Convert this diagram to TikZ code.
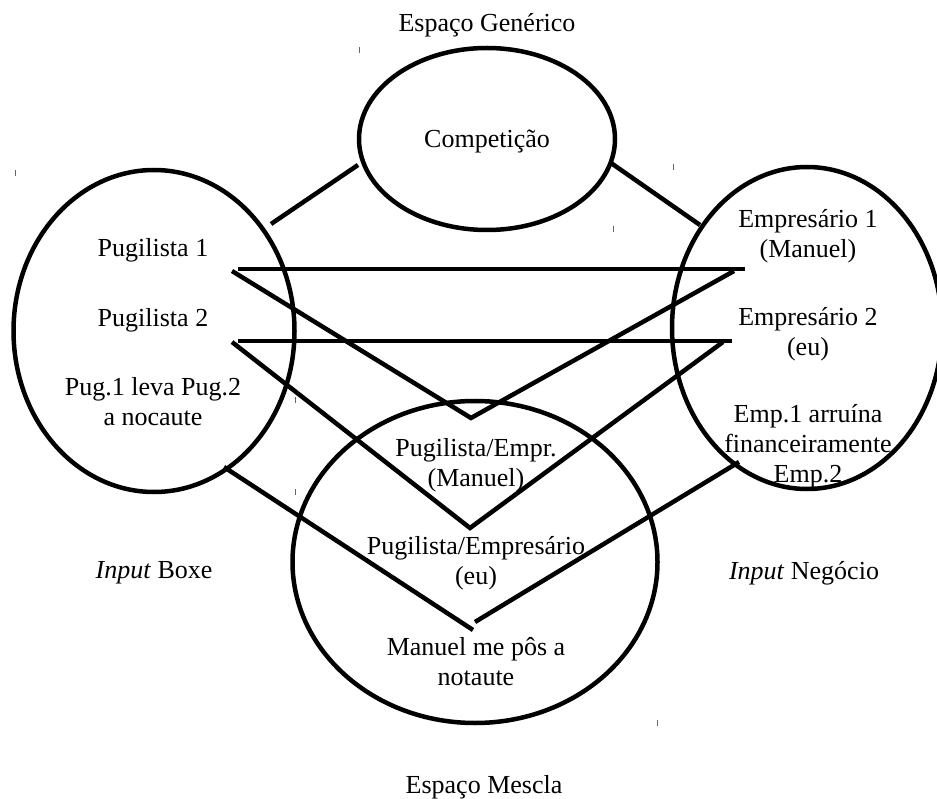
\documentclass[tikz,border=0pt]{standalone}
\usepackage{fontspec}
\setmainfont{Liberation Serif}
\usetikzlibrary{shapes.geometric}
\begin{document}
\begin{tikzpicture}[x=1pt,y=-1pt,
  lbl/.style={font=\fontsize{26}{30}\selectfont, align=center, inner sep=0pt},
  ell/.style={ellipse, draw, line width=4.5pt, inner sep=0pt},
  conn/.style={line width=4.5pt},
  tick/.style={line width=0.8pt, draw=black!60}]
\useasboundingbox (0,0) rectangle (937,799);
\begin{scope}
\clip (0,0) rectangle (937,799);
% ellipses
\node[ell, minimum width=256, minimum height=182] (gen) at (487,139) {};
\node[ell, minimum width=281, minimum height=322] (box) at (154,331) {};
\node[ell, minimum width=270, minimum height=322] (neg) at (807,328) {};
\node[ell, minimum width=365, minimum height=322] (mes) at (475,562) {};
\end{scope}
% labels
\node[lbl] (tgen) at (487,25) {Espaço Genérico};
\node[lbl] (tmes) at (484,787) {Espaço Mescla};
\node[lbl] (tib) at (154,573) {\textit{Input} Boxe};
\node[lbl] (tin) at (804,573) {\textit{Input} Negócio};
\node[lbl] (comp) at (487,142) {Competição};
\node[lbl] (p1) at (153,250) {Pugilista 1};
\node[lbl] (p2) at (153,320) {Pugilista 2};
\node[lbl] (p3) at (153,402) {Pug.1 leva Pug.2\\a nocaute};
\node[lbl] (e1) at (808,236) {Empresário 1\\(Manuel)};
\node[lbl] (e2) at (808,334) {Empresário 2\\(eu)};
\node[lbl] (e3) at (808,446) {Emp.1 arruína\\financeiramente\\Emp.2};
\node[lbl] (m1) at (476,465) {Pugilista/Empr.\\(Manuel)};
\node[lbl] (m2) at (476,563) {Pugilista/Empresário\\(eu)};
\node[lbl] (m3) at (476,662) {Manuel me pôs a\\notaute};
% connector end points
\coordinate (gl1) at (358,165);
\coordinate (gl2) at (271,224);
\coordinate (gr1) at (611,163);
\coordinate (gr2) at (700,225);
\coordinate (a1) at (238,269);
\coordinate (a2) at (745,269);
\coordinate (a3) at (232,271);
\coordinate (a4) at (734,271);
\coordinate (va) at (471,418);
\coordinate (b1) at (238,341);
\coordinate (b2) at (732,341);
\coordinate (b3) at (232,342);
\coordinate (b4) at (723,342);
\coordinate (vb) at (470,528);
\coordinate (c1) at (224,467);
\coordinate (c2) at (739,462);
\coordinate (vc) at (473,630);
\coordinate (vc2) at (475,622);
% connectors
\draw[conn] (gl1) -- (gl2);
\draw[conn] (gr1) -- (gr2);
\draw[conn] (a1) -- (a2);
\draw[conn] (a3) -- (va) -- (a4);
\draw[conn] (b1) -- (b2);
\draw[conn] (b3) -- (vb) -- (b4);
\draw[conn] (c1) -- (vc);
\draw[conn] (c2) -- (vc2);
% stray ticks
\coordinate (t1) at (359,47);
\coordinate (t2) at (15,170);
\coordinate (t3) at (673,164);
\coordinate (t4) at (613,226);
\coordinate (t5) at (295,397);
\coordinate (t6) at (295,489);
\coordinate (t7) at (657,720);
\draw[tick] (t1) -- ++(0,6);
\draw[tick] (t2) -- ++(0,6);
\draw[tick] (t3) -- ++(0,6);
\draw[tick] (t4) -- ++(0,6);
\draw[tick] (t5) -- ++(0,6);
\draw[tick] (t6) -- ++(0,6);
\draw[tick] (t7) -- ++(0,6);
\end{tikzpicture}
\end{document}
